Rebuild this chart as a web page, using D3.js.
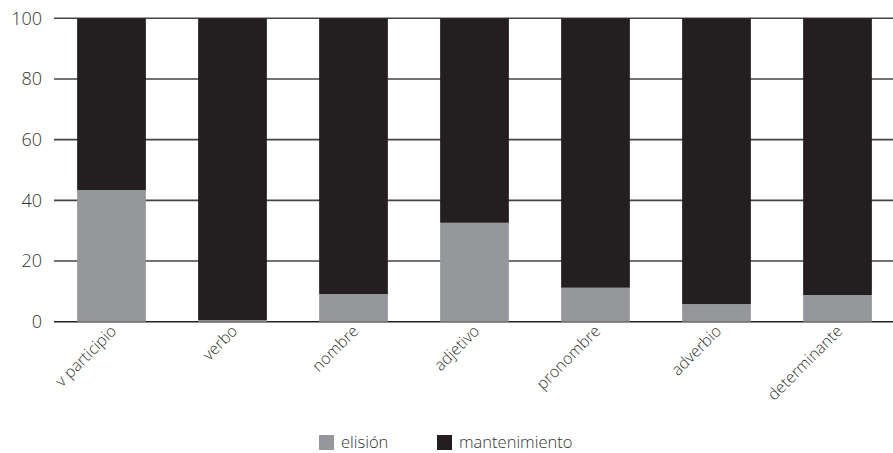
<!DOCTYPE html>
<html><head><meta charset="utf-8">
<script src="https://cdn.jsdelivr.net/npm/d3@7"></script>
<style>body{margin:0;background:#fff}svg{display:block}text{font-family:"Open Sans",sans-serif;font-weight:300}</style>
</head><body><svg id="c" width="893" height="453"></svg>
<script>
const categories = ["v participio","verbo","nombre","adjetivo","pronombre","adverbio","determinante"];
const elision = [43.4,0.5,9.1,32.6,11.2,5.8,8.8];
const mantenimiento = [56.6,99.5,90.9,67.4,88.8,94.2,91.2];
const yTicks = [0,20,40,60,80,100];
const seriesNames = ["elisión","mantenimiento"];
const colors = ["#96979a","#231f20"];

const svg = d3.select("#c");
const x = d3.scaleBand().domain(categories).range([51,898]).paddingInner(0.432).paddingOuter(0.216);
const y = d3.scaleLinear().domain([0,100]).range([321.7,18.3]);

// gridlines
svg.append("g").selectAll("line").data(yTicks).join("line")
  .attr("x1",54).attr("x2",893).attr("y1",d=>y(d)).attr("y2",d=>y(d))
  .attr("stroke",d=>d===0?"#231f20":"#444").attr("stroke-width",1.6);

// y labels
svg.append("g").selectAll("text").data(yTicks).join("text")
  .attr("x",42).attr("y",d=>y(d)).attr("dy","0.35em").attr("text-anchor","end")
  .attr("font-size",18).attr("fill","#333").text(d=>d);

const rows = categories.map((c,i)=>({cat:c,"elisión":elision[i],"mantenimiento":mantenimiento[i]}));
const stack = d3.stack().keys(seriesNames)(rows);
svg.append("g").selectAll("g").data(stack).join("g").attr("fill",(d,i)=>colors[i])
  .selectAll("rect").data(d=>d).join("rect")
  .attr("x",d=>x(d.data.cat)).attr("width",x.bandwidth())
  .attr("y",d=>y(d[1])).attr("height",d=>y(d[0])-y(d[1]));

// x labels
svg.append("g").selectAll("text").data(categories).join("text")
  .attr("transform",d=>`translate(${x(d)+x.bandwidth()/2+6},${332}) rotate(-45)`)
  .attr("text-anchor","end").attr("font-size",16).attr("fill","#333").text(d=>d);

// legend
const lx = [319,437];
const lg = svg.append("g").selectAll("g").data(seriesNames).join("g")
  .attr("transform",(d,i)=>`translate(${lx[i]},435)`);
lg.append("rect").attr("width",15).attr("height",15).attr("fill",(d,i)=>colors[i]);
lg.append("text").attr("x",22).attr("y",13).attr("font-size",16.5).attr("fill","#333").text(d=>d);
</script></body></html>
